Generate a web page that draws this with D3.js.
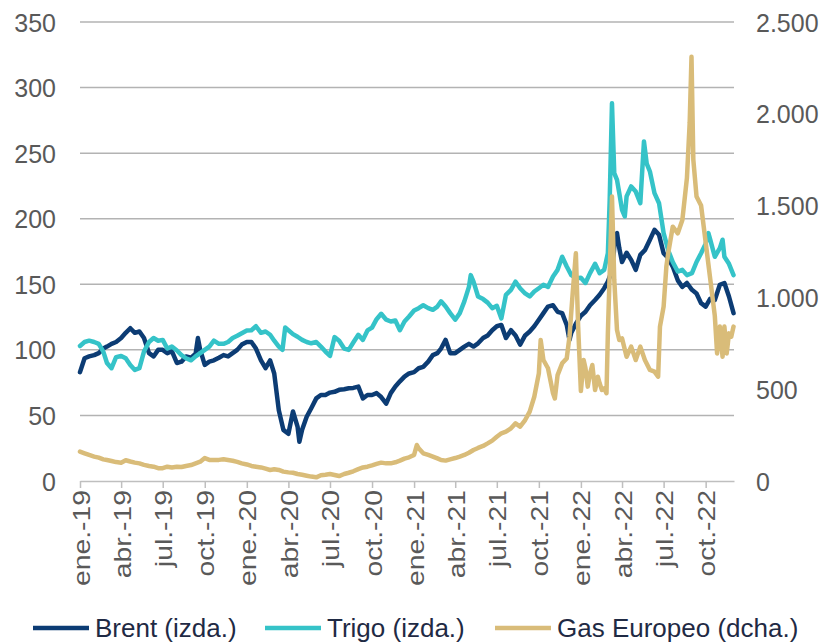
<!DOCTYPE html>
<html><head><meta charset="utf-8">
<script src="https://cdn.jsdelivr.net/npm/d3@7"></script>
<style>
html,body{margin:0;padding:0;background:#fff;}
svg{display:block;font-family:"Liberation Sans",Arial,sans-serif;}
</style></head>
<body><svg id="chart" width="830" height="642"></svg>
<script>
const leftTicks = [0, 50, 100, 150, 200, 250, 300, 350];
const rightTicks = [0, 500, 1000, 1500, 2000, 2500];
const monthAbbr = ["ene.", "feb.", "mar.", "abr.", "may.", "jun.", "jul.", "ago.", "sep.", "oct.", "nov.", "dic."];
const xTickDates = ["2019-01-01","2019-04-01","2019-07-01","2019-10-01","2020-01-01","2020-04-01","2020-07-01","2020-10-01","2021-01-01","2021-04-01","2021-07-01","2021-10-01","2022-01-01","2022-04-01","2022-07-01","2022-10-01"];
const seriesNames = ["Brent (izda.)", "Trigo (izda.)", "Gas Europeo (dcha.)"];

const brent = [
["2019-01-01",83],["2019-01-11",93.6],["2019-01-21",95],["2019-02-01",96],["2019-02-11",97.5],["2019-02-21",101],
["2019-03-01",102.5],["2019-03-11",104.6],["2019-03-21",106],["2019-04-01",109],["2019-04-11",113],["2019-04-21",116.5],
["2019-05-01",113],["2019-05-11",114],["2019-05-21",109],["2019-06-01",97.5],["2019-06-11",95],["2019-06-21",100],
["2019-07-01",100],["2019-07-11",97.5],["2019-07-21",99],["2019-08-01",90],["2019-08-11",91],["2019-08-21",95],
["2019-09-01",94],["2019-09-11",97],["2019-09-16",109],["2019-09-21",100],["2019-10-01",88.5],["2019-10-11",91],["2019-10-21",92],
["2019-11-01",94],["2019-11-11",96],["2019-11-21",95],["2019-12-01",97.5],["2019-12-11",100],["2019-12-21",104],
["2020-01-01",106],["2020-01-11",106],["2020-01-21",101],["2020-02-01",92],["2020-02-11",86],["2020-02-21",92],
["2020-03-01",82],["2020-03-11",54],["2020-03-21",39],["2020-04-01",36],["2020-04-11",53],["2020-04-21",41.5],["2020-04-25",30],
["2020-05-01",39],["2020-05-11",49],["2020-05-21",55.5],["2020-06-01",63],["2020-06-11",65.6],["2020-06-21",65.6],
["2020-07-01",67.4],["2020-07-11",68],["2020-07-21",69.5],["2020-08-01",70],["2020-08-11",70.7],["2020-08-21",71],
["2020-09-01",72],["2020-09-11",63],["2020-09-21",65.6],["2020-10-01",65.6],["2020-10-11",67],["2020-10-21",64],
["2020-11-01",59],["2020-11-11",67],["2020-11-21",72],["2020-12-01",76],["2020-12-11",79.6],["2020-12-21",82],
["2021-01-01",83],["2021-01-11",86],["2021-01-21",87],["2021-02-01",91],["2021-02-11",96],["2021-02-21",97.5],
["2021-03-01",101],["2021-03-11",107.6],["2021-03-21",97.5],["2021-04-01",97.5],["2021-04-11",100],["2021-04-21",102.5],
["2021-05-01",104.6],["2021-05-11",102.5],["2021-05-21",105],["2021-06-01",109],["2021-06-11",111],["2021-06-21",115],
["2021-07-01",118],["2021-07-11",119],["2021-07-21",109],["2021-08-01",115],["2021-08-11",111],["2021-08-21",104],
["2021-09-01",111],["2021-09-11",114],["2021-09-21",118],["2021-10-01",123],["2021-10-11",128],["2021-10-21",133],
["2021-11-01",134],["2021-11-11",129],["2021-11-21",128],["2021-12-01",119],["2021-12-07",107.6],["2021-12-11",113],["2021-12-21",120],
["2022-01-01",126],["2022-01-11",129],["2022-01-21",134],["2022-02-01",138],["2022-02-11",142],["2022-02-21",147],
["2022-03-01",152],["2022-03-08",158.5],["2022-03-14",174],["2022-03-17",187.7],["2022-03-21",189],["2022-03-26",177.5],
["2022-04-01",167],["2022-04-11",174],["2022-04-21",168.6],["2022-05-01",161],["2022-05-11",172.4],["2022-05-21",176],
["2022-06-01",184],["2022-06-11",191.5],["2022-06-21",187.7],["2022-07-01",173.7],["2022-07-11",170],["2022-07-21",163.5],
["2022-08-01",153],["2022-08-11",148],["2022-08-21",151],["2022-09-01",145.8],["2022-09-11",143],["2022-09-21",135.6],
["2022-10-01",133],["2022-10-11",139],["2022-10-21",138],["2022-11-01",149.6],["2022-11-11",151],["2022-11-21",140.7],["2022-12-01",128]
];

const trigo = [
["2019-01-01",103],["2019-01-11",106],["2019-01-21",107],["2019-02-01",106],["2019-02-11",104.6],["2019-02-21",98.7],
["2019-03-01",90],["2019-03-11",86],["2019-03-21",94.4],["2019-04-01",95.4],["2019-04-11",93.6],["2019-04-21",88.5],
["2019-05-01",84.7],["2019-05-11",86],["2019-05-21",98.7],["2019-06-01",106],["2019-06-11",109],["2019-06-21",107],
["2019-07-01",107.6],["2019-07-11",101],["2019-07-21",102.5],["2019-08-01",99.5],["2019-08-11",96],["2019-08-21",93.6],
["2019-09-01",92],["2019-09-11",95],["2019-09-21",97.5],["2019-10-01",100],["2019-10-11",102.5],["2019-10-21",107],
["2019-11-01",104.6],["2019-11-11",104.6],["2019-11-21",106],["2019-12-01",109],["2019-12-11",110.7],["2019-12-21",112.7],
["2020-01-01",114.8],["2020-01-11",115],["2020-01-21",118],["2020-02-01",113],["2020-02-11",114],["2020-02-21",111.5],
["2020-03-01",107],["2020-03-11",102.5],["2020-03-19",100],["2020-03-25",117],["2020-04-01",115],["2020-04-11",112],["2020-04-21",110],
["2020-05-01",107.6],["2020-05-11",106],["2020-05-21",105],["2020-06-01",106],["2020-06-11",102.5],["2020-06-21",98.7],
["2020-07-01",95.4],["2020-07-11",109.7],["2020-07-21",107],["2020-08-01",101],["2020-08-11",100],["2020-08-21",105.6],
["2020-09-01",111.5],["2020-09-11",107.6],["2020-09-21",114.8],["2020-10-01",117],["2020-10-11",123.4],["2020-10-21",127.5],
["2020-11-01",123],["2020-11-11",121.6],["2020-11-21",122.4],["2020-12-01",115],["2020-12-11",121.6],["2020-12-21",125.4],
["2021-01-01",130],["2021-01-11",131.8],["2021-01-21",134],["2021-02-01",131.8],["2021-02-11",130.5],["2021-02-21",133],
["2021-03-01",137],["2021-03-11",133],["2021-03-21",128],["2021-04-01",123],["2021-04-11",128],["2021-04-21",137],
["2021-05-01",148],["2021-05-05",157],["2021-05-11",152],["2021-05-21",140.7],["2021-06-01",138.7],["2021-06-11",136],["2021-06-21",131.8],
["2021-07-01",133.6],["2021-07-11",124],["2021-07-21",142],["2021-08-01",145.8],["2021-08-11",152],["2021-08-21",147],
["2021-09-01",143],["2021-09-11",140.7],["2021-09-21",144.5],["2021-10-01",147],["2021-10-11",149.6],["2021-10-21",148],
["2021-11-01",156],["2021-11-11",161],["2021-11-21",171],["2021-12-01",163.6],["2021-12-11",157],["2021-12-21",154.7],
["2022-01-01",155],["2022-01-11",151],["2022-01-21",158.5],["2022-02-01",165.6],["2022-02-11",158.5],["2022-02-21",161],
["2022-03-01",173.7],["2022-03-05",214],["2022-03-10",288],["2022-03-15",234.7],["2022-03-21",229.6],["2022-03-26",219.5],
["2022-04-01",206.8],["2022-04-07",201.7],["2022-04-11",217],["2022-04-21",224.6],["2022-05-01",220.7],["2022-05-11",211.8],
["2022-05-19",258.9],["2022-05-25",242],["2022-06-01",236],["2022-06-11",219.5],["2022-06-21",211.8],["2022-07-01",189],
["2022-07-11",176],["2022-07-21",167],["2022-08-01",159.7],["2022-08-11",161],["2022-08-21",157],["2022-09-01",158.5],
["2022-09-11",167],["2022-09-21",173.7],["2022-10-01",181],["2022-10-07",189],["2022-10-11",184],["2022-10-21",171],
["2022-11-01",177.5],["2022-11-07",184],["2022-11-11",171],["2022-11-21",165.6],["2022-12-01",157]
];

const gas = [
["2019-01-01",160],["2019-01-11",151],["2019-01-21",142],["2019-02-01",133],["2019-02-11",127],["2019-02-21",118],
["2019-03-01",114],["2019-03-11",109],["2019-03-21",103],["2019-04-01",100],["2019-04-11",113],["2019-04-21",106],
["2019-05-01",100],["2019-05-11",96],["2019-05-21",88],["2019-06-01",82],["2019-06-11",78],["2019-06-21",70],
["2019-07-01",70],["2019-07-11",78],["2019-07-21",74],["2019-08-01",78],["2019-08-11",76],["2019-08-21",82],
["2019-09-01",87],["2019-09-11",96],["2019-09-21",105],["2019-10-01",125],["2019-10-11",115],["2019-10-21",114],
["2019-11-01",115],["2019-11-11",118],["2019-11-21",114],["2019-12-01",110],["2019-12-11",104],["2019-12-21",96],
["2020-01-01",90],["2020-01-11",82],["2020-01-21",78],["2020-02-01",74],["2020-02-11",67],["2020-02-21",60],
["2020-03-01",64],["2020-03-11",60],["2020-03-21",51],["2020-04-01",47],["2020-04-11",45],["2020-04-21",38],
["2020-05-01",34],["2020-05-11",29],["2020-05-21",24],["2020-06-01",20],["2020-06-11",31],["2020-06-21",34],
["2020-07-01",38],["2020-07-11",33],["2020-07-21",27],["2020-08-01",38],["2020-08-11",45],["2020-08-21",53],
["2020-09-01",65],["2020-09-11",74],["2020-09-21",78],["2020-10-01",85],["2020-10-11",93],["2020-10-21",100],
["2020-11-01",96],["2020-11-11",96],["2020-11-21",102],["2020-12-01",111],["2020-12-11",122],["2020-12-21",129],
["2021-01-01",142],["2021-01-07",196],["2021-01-11",178],["2021-01-21",151],["2021-02-01",142],["2021-02-11",133],["2021-02-21",123],
["2021-03-01",114],["2021-03-11",111],["2021-03-21",118],["2021-04-01",125],["2021-04-11",133],["2021-04-21",142],
["2021-05-01",154],["2021-05-11",169],["2021-05-21",180],["2021-06-01",191],["2021-06-11",205],["2021-06-21",220],
["2021-07-01",241],["2021-07-11",260],["2021-07-21",269],["2021-08-01",287],["2021-08-11",314],["2021-08-21",296],
["2021-09-01",332],["2021-09-11",378],["2021-09-21",459],["2021-10-01",586],["2021-10-05",768],["2021-10-11",659],["2021-10-21",614],
["2021-11-01",478],["2021-11-05",450],["2021-11-11",577],["2021-11-21",641],["2021-12-01",668],["2021-12-07",786],
["2021-12-14",1022],["2021-12-21",1240],["2021-12-26",841],["2022-01-01",490],["2022-01-07",659],["2022-01-11",614],
["2022-01-16",514],["2022-01-21",586],["2022-01-26",632],["2022-02-01",496],["2022-02-07",568],["2022-02-11",532],
["2022-02-16",496],["2022-02-21",505],["2022-02-26",478],["2022-03-01",804],["2022-03-05",1131],["2022-03-10",1549],
["2022-03-15",1095],["2022-03-21",822],["2022-03-26",768],["2022-04-01",777],["2022-04-11",677],["2022-04-21",732],
["2022-05-01",659],["2022-05-11",732],["2022-05-21",659],["2022-06-01",605],["2022-06-11",596],["2022-06-19",568],
["2022-06-23",841],["2022-07-01",950],["2022-07-07",1168],["2022-07-11",1240],["2022-07-21",1385],["2022-08-01",1349],
["2022-08-11",1422],["2022-08-21",1650],["2022-08-27",1950],["2022-08-31",2311],["2022-09-04",1750],["2022-09-11",1550],
["2022-09-21",1500],["2022-10-01",1300],["2022-10-11",1100],["2022-10-21",900],["2022-10-26",695],["2022-11-01",841],
["2022-11-07",677],["2022-11-11",841],["2022-11-16",695],["2022-11-21",804],["2022-11-26",786],["2022-12-01",841]
];

const colors = ["#0c3c74", "#35c3c8", "#d9bc79"];
const parse = d3.timeParse("%Y-%m-%d");

const svg = d3.select("#chart");
const x = d3.scaleTime().domain([parse("2019-01-01"), parse("2022-12-02")]).range([80, 734]);
const yL = d3.scaleLinear().domain([0, 350]).range([481, 22]);
const yR = d3.scaleLinear().domain([0, 2500]).range([481, 22]);

// gridlines
svg.append("g").selectAll("line").data(leftTicks.filter(d => d > 0)).join("line")
  .attr("x1", 80).attr("x2", 734)
  .attr("y1", d => yL(d)).attr("y2", d => yL(d))
  .attr("stroke", "#b3b3b3").attr("stroke-width", 1.5);

// left axis
const gl = svg.append("g").attr("transform", "translate(56,0)")
  .call(d3.axisLeft(yL).tickValues(leftTicks).tickSize(0).tickPadding(0));
gl.select(".domain").remove();
gl.selectAll("text").attr("font-size", 25).attr("fill", "#595959")
  .attr("font-family", "Liberation Sans, Arial, sans-serif").attr("dy", "0.36em");

// right axis
const fmtR = d => d3.format(",")(d).replace(/,/g, ".");
const gr = svg.append("g").attr("transform", "translate(756,0)")
  .call(d3.axisRight(yR).tickValues(rightTicks).tickFormat(fmtR).tickSize(0).tickPadding(0));
gr.select(".domain").remove();
gr.selectAll("text").attr("font-size", 25).attr("fill", "#595959")
  .attr("font-family", "Liberation Sans, Arial, sans-serif").attr("dy", "0.36em");

// bottom axis
const fmtX = d => monthAbbr[d.getMonth()] + "-" + String(d.getFullYear()).slice(2);
const gx = svg.append("g").attr("transform", "translate(0,481)")
  .call(d3.axisBottom(x).tickValues(xTickDates.map(parse)).tickFormat(fmtX).tickSize(7).tickSizeOuter(0).tickPadding(0));
gx.select(".domain").attr("stroke", "#bfbfbf").attr("stroke-width", 1.5);
gx.selectAll(".tick line").attr("stroke", "#bfbfbf").attr("stroke-width", 1.5);
gx.selectAll("text")
  .attr("font-size", 24).attr("fill", "#595959")
  .attr("font-family", "Liberation Sans, Arial, sans-serif")
  .attr("text-anchor", "end")
  .attr("transform", "translate(9,9) rotate(-90)")
  .attr("x", 0).attr("y", 0).attr("dy", 0)
  .each(function () {
    const L = this.getComputedTextLength();
    d3.select(this).attr("textLength", L * 1.18).attr("lengthAdjust", "spacingAndGlyphs");
  });

// lines
const line = (ys) => d3.line().x(d => x(parse(d[0]))).y(d => ys(d[1]));
const seriesData = [brent, trigo, gas];
const scales = [yL, yL, yR];
seriesData.forEach((s, i) => {
  svg.append("path").datum(s)
    .attr("fill", "none").attr("stroke", colors[i]).attr("stroke-width", 4.5)
    .attr("stroke-linejoin", "round").attr("stroke-linecap", "round")
    .attr("d", line(scales[i]));
});

// legend
const legX = [33, 265, 495];
const lg = svg.append("g");
seriesNames.forEach((n, i) => {
  lg.append("line").attr("x1", legX[i]).attr("x2", legX[i] + 56).attr("y1", 628).attr("y2", 628)
    .attr("stroke", colors[i]).attr("stroke-width", 4.5);
  lg.append("text").attr("x", legX[i] + 62).attr("y", 628).attr("dy", "0.36em")
    .attr("font-size", 26).attr("fill", "#1f2a44")
    .attr("font-family", "Liberation Sans, Arial, sans-serif")
    .text(n);
});
</script></body></html>
